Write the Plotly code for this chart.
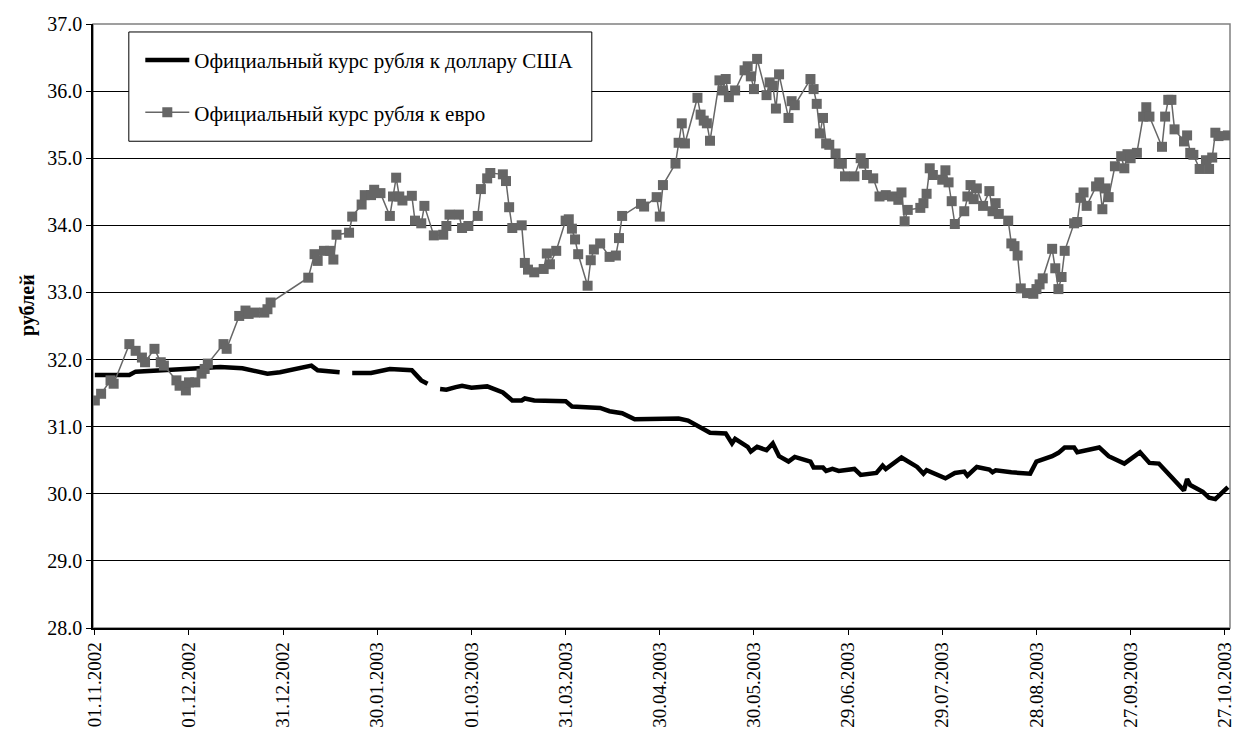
import plotly.graph_objects as go
import pandas as pd

start = pd.Timestamp("2002-11-01")

# курс евро: день от 01.11.2002 и значение
eur_day = [0, 2, 5, 6, 11, 13, 15, 16, 19, 21, 22, 26, 27, 29, 30, 32, 34, 35, 36, 41,
           42, 46, 48, 49, 51, 54, 55, 56, 68, 70, 71, 73, 75, 76, 77, 81, 82, 85, 86, 88,
           89, 91, 94, 95, 96, 97, 98, 101, 102, 104, 105, 108, 111, 112, 113, 116, 117, 119, 122, 123,
           125, 126, 130, 131, 132, 133, 136, 137, 138, 140, 143, 144, 145, 147, 150, 151, 152, 153, 154, 157,
           158, 159, 161, 164, 166, 167, 168, 174, 175, 179, 180, 181, 185, 186, 187, 188, 192, 193, 194, 195,
           196, 199, 200, 201, 202, 204, 207, 208, 209, 210, 211, 214, 215, 216, 217, 218, 221, 222, 223, 228,
           229, 230, 231, 232, 233, 234, 236, 237, 238, 239, 242, 244, 245, 246, 248, 250, 252, 254, 256, 257,
           258, 259, 263, 264, 265, 266, 267, 270, 271, 272, 273, 274, 277, 278, 279, 280, 281, 283, 285, 286,
           287, 288, 291, 292, 293, 294, 295, 297, 299, 300, 301, 302, 305, 306, 307, 308, 309, 312, 313, 314,
           315, 316, 319, 320, 321, 322, 323, 325, 327, 328, 329, 330, 332, 334, 335, 336, 340, 341, 342, 343,
           344, 347, 348, 349, 350, 352, 354, 355, 356, 357, 358, 361]
eur_rate = [31.39, 31.49, 31.69, 31.64, 32.23, 32.13, 32.03, 31.96, 32.16, 31.96, 31.91, 31.69, 31.61, 31.54, 31.66, 31.66, 31.79, 31.86, 31.94, 32.23,
            32.16, 32.65, 32.73, 32.68, 32.70, 32.70, 32.75, 32.85, 33.22, 33.57, 33.47, 33.62, 33.62, 33.49, 33.86, 33.89, 34.13, 34.31, 34.45, 34.45,
            34.53, 34.48, 34.14, 34.43, 34.71, 34.43, 34.37, 34.44, 34.07, 34.03, 34.29, 33.85, 33.86, 33.99, 34.16, 34.16, 33.96, 33.99, 34.14, 34.54,
            34.70, 34.78, 34.76, 34.66, 34.27, 33.96, 34.00, 33.44, 33.34, 33.30, 33.35, 33.58, 33.42, 33.62, 34.07, 34.09, 33.95, 33.79, 33.57, 33.10,
            33.48, 33.64, 33.73, 33.53, 33.55, 33.81, 34.14, 34.32, 34.28, 34.42, 34.13, 34.60, 34.92, 35.23, 35.52, 35.22, 35.90, 35.65, 35.56, 35.52,
            35.26, 36.16, 36.01, 36.18, 35.91, 36.01, 36.31, 36.37, 36.22, 36.03, 36.48, 35.94, 36.13, 36.08, 35.74, 36.25, 35.60, 35.85, 35.79, 36.18,
            36.03, 35.81, 35.37, 35.60, 35.22, 35.20, 35.07, 34.92, 34.92, 34.73, 34.73, 35.00, 34.92, 34.75, 34.70, 34.43, 34.45, 34.43, 34.38, 34.49,
            34.06, 34.23, 34.26, 34.33, 34.47, 34.85, 34.75, 34.68, 34.82, 34.64, 34.36, 34.02, 34.21, 34.43, 34.60, 34.39, 34.55, 34.29, 34.51, 34.21,
            34.33, 34.17, 34.07, 33.73, 33.69, 33.55, 33.06, 32.99, 32.98, 33.05, 33.12, 33.21, 33.65, 33.36, 33.05, 33.23, 33.62, 34.03, 34.05, 34.41,
            34.49, 34.29, 34.58, 34.64, 34.24, 34.55, 34.42, 34.88, 35.03, 34.85, 35.06, 35.00, 35.08, 35.62, 35.76, 35.62, 35.17, 35.62, 35.87, 35.87,
            35.43, 35.25, 35.34, 35.08, 35.05, 34.84, 34.97, 34.84, 35.01, 35.38, 35.33, 35.34]

# курс доллара: None - разрыв в данных
usd_day = [0, 11, 13, 20, 27, 31, 40, 47, 50, 55, 59, 65, 69, 71, 75, 78, 80, 82, 88, 94,
           101, 102, 104, 106, 108, 110, 112, 115, 117, 120, 123, 125, 130, 133, 136, 137, 140, 150, 152, 157,
           161, 164, 168, 172, 179, 186, 189, 192, 196, 201, 203, 204, 208, 209, 211, 214, 216, 218, 221, 223,
           228, 229, 232, 233, 235, 237, 240, 242, 244, 249, 251, 252, 257, 261, 262, 264, 265, 271, 274, 277,
           278, 281, 285, 286, 287, 292, 298, 300, 305, 307, 309, 312, 313, 320, 323, 328, 333, 336, 339, 343,
           345, 347, 348, 349, 353, 355, 357, 361]
usd_rate = [31.77, 31.77, 31.82, 31.84, 31.85, 31.87, 31.89, 31.87, 31.84, 31.79, 31.81, 31.87, 31.91, 31.84, 31.82, 31.81, None, 31.80, 31.80, 31.86,
            31.84, 31.79, 31.69, 31.64, None, 31.56, 31.55, 31.59, 31.61, 31.58, 31.60, 31.60, 31.51, 31.39, 31.39, 31.42, 31.39, 31.38, 31.30, 31.28,
            31.28, 31.23, 31.20, 31.11, 31.11, 31.12, 31.09, 31.02, 30.91, 30.90, 30.75, 30.82, 30.70, 30.63, 30.70, 30.65, 30.75, 30.56, 30.48, 30.55,
            30.48, 30.39, 30.39, 30.34, 30.37, 30.34, 30.35, 30.37, 30.28, 30.31, 30.42, 30.37, 30.54, 30.42, 30.40, 30.30, 30.35, 30.23, 30.31, 30.33,
            30.27, 30.40, 30.36, 30.32, 30.35, 30.32, 30.30, 30.48, 30.56, 30.61, 30.69, 30.69, 30.62, 30.69, 30.56, 30.45, 30.62, 30.46, 30.45, 30.25,
            30.15, 30.05, 30.22, 30.13, 30.03, 29.94, 29.92, 30.10]

eur_dates = start + pd.to_timedelta(eur_day, unit="D")
usd_dates = start + pd.to_timedelta(usd_day, unit="D")

font = "Liberation Serif"

fig = go.Figure()
fig.add_trace(go.Scatter(
    x=usd_dates, y=usd_rate, mode="lines",
    name="Официальный курс рубля к доллару США",
    line=dict(color="#000000", width=4.5),
    connectgaps=False, legendgroup="usd",
))
fig.add_trace(go.Scatter(
    x=eur_dates, y=eur_rate, mode="lines+markers",
    name="Официальный курс рубля к евро",
    line=dict(color="#666666", width=1.5),
    marker=dict(symbol="square", size=10, color="#666666"),
    legendgroup="eur",
))

x0 = start - pd.Timedelta(hours=14)
x1 = start + pd.Timedelta(days=361, hours=16)

# страница сдвигает график на 8 px (отступ body), поэтому поля меньше
fig.update_layout(
    width=1232, height=725,
    margin=dict(l=85, r=5, t=12, b=105),
    paper_bgcolor="white", plot_bgcolor="white",
    font=dict(family=font, size=19, color="#000000"),
    showlegend=True,
    legend=dict(
        x=0.0416, y=0.9737, xanchor="left", yanchor="top",
        bgcolor="rgba(0,0,0,0)", borderwidth=0,
        traceorder="grouped", tracegroupgap=22,
        itemwidth=44, font=dict(size=21, family=font),
    ),
    shapes=[
        dict(type="rect", xref="paper", yref="paper", x0=0, x1=1, y0=0, y1=1,
             line=dict(color="#808080", width=1.5), layer="below"),
        # рамка легенды
        dict(type="rect", xref="paper", yref="paper", x0=0.0315, x1=0.4387, y0=0.8059, y1=0.9868,
             line=dict(color="#000000", width=1), fillcolor="white", layer="above"),
    ],
    annotations=[
        dict(text="<b>рублей</b>", xref="paper", yref="paper", x=-0.057, y=0.535,
             xanchor="center", yanchor="middle", textangle=-90, showarrow=False,
             font=dict(size=20, family=font)),
    ],
)
fig.update_xaxes(
    type="date", range=[x0, x1],
    tick0=start, dtick=30 * 86400000, tickformat="%d.%m.%Y", tickangle=-90,
    showgrid=False, showline=True, linecolor="#000000", linewidth=1.5,
    ticks="outside", ticklen=5, tickcolor="#000000",
    tickfont=dict(size=19, family=font),
)
fig.update_yaxes(
    range=[28, 37], dtick=1, tickformat=".1f",
    showgrid=True, gridcolor="#000000", gridwidth=1,
    showline=True, linecolor="#000000", linewidth=1.5,
    ticks="outside", ticklen=5, tickcolor="#000000",
    tickfont=dict(size=20, family=font),
)

fig.write_html("out.html")
